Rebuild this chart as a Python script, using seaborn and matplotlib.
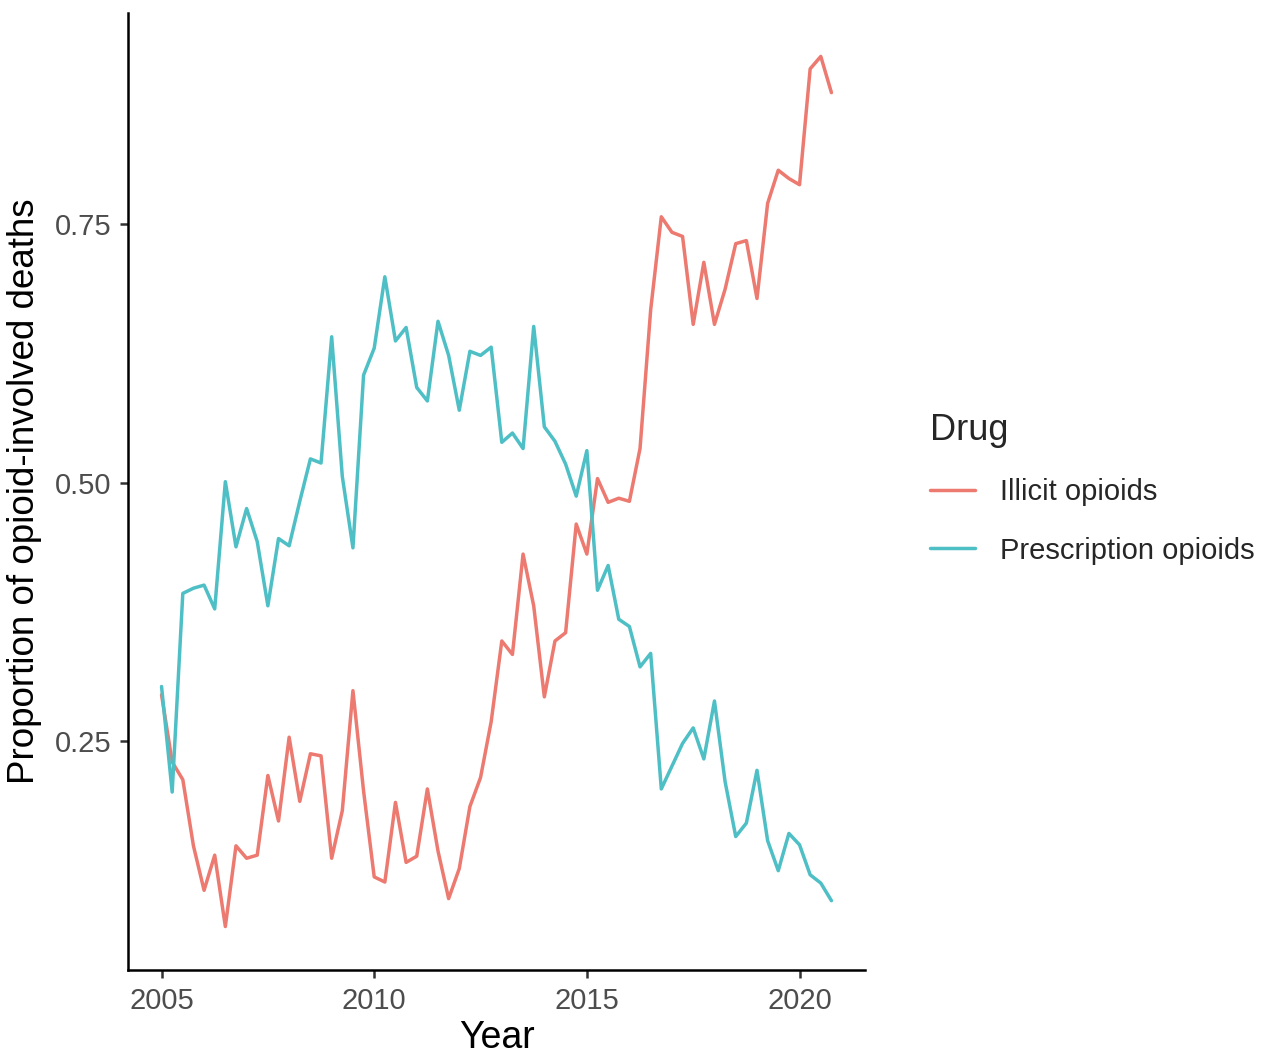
import numpy as np
import pandas as pd
import matplotlib
matplotlib.use("Agg")
import matplotlib.pyplot as plt
import seaborn as sns

# Quarterly proportions, 2005 Q1 - 2020 Q4
quarters = [2005 + q / 4 for q in range(64)]

illicit = [
    0.295, 0.230, 0.213, 0.149, 0.106, 0.140, 0.071, 0.149,
    0.137, 0.140, 0.217, 0.173, 0.254, 0.192, 0.238, 0.236,
    0.137, 0.183, 0.299, 0.202, 0.119, 0.114, 0.191, 0.133,
    0.139, 0.204, 0.144, 0.098, 0.127, 0.187, 0.215, 0.269,
    0.347, 0.334, 0.431, 0.381, 0.293, 0.347, 0.355, 0.460,
    0.431, 0.504, 0.481, 0.485, 0.482, 0.533, 0.667, 0.757,
    0.742, 0.738, 0.653, 0.713, 0.653, 0.687, 0.731, 0.734,
    0.678, 0.770, 0.802, 0.794, 0.788, 0.900, 0.912, 0.877,
]

prescription = [
    0.303, 0.201, 0.393, 0.398, 0.401, 0.378, 0.501, 0.438,
    0.475, 0.443, 0.381, 0.446, 0.439, 0.482, 0.523, 0.519,
    0.641, 0.506, 0.437, 0.604, 0.630, 0.699, 0.637, 0.650,
    0.592, 0.579, 0.656, 0.623, 0.570, 0.627, 0.623, 0.631,
    0.539, 0.548, 0.533, 0.651, 0.554, 0.540, 0.518, 0.487,
    0.531, 0.396, 0.420, 0.368, 0.361, 0.322, 0.335, 0.204,
    0.226, 0.248, 0.263, 0.233, 0.289, 0.211, 0.158, 0.171,
    0.222, 0.154, 0.125, 0.161, 0.150, 0.121, 0.113, 0.096,
]

drug_labels = ["Illicit opioids", "Prescription opioids"]
palette = {"Illicit opioids": "#EC7A70", "Prescription opioids": "#4FBFC6"}

df = pd.DataFrame({
    "Year": quarters * 2,
    "Proportion": illicit + prescription,
    "Drug": [drug_labels[0]] * len(quarters) + [drug_labels[1]] * len(quarters),
})

sns.set_style("ticks")
plt.rcParams["font.family"] = ["Liberation Sans", "DejaVu Sans"]

fig = plt.figure(figsize=(12.63, 10.54), dpi=100)
ax = fig.add_axes([0.1013, 0.0797, 0.5836, 0.908])

sns.lineplot(data=df, x="Year", y="Proportion", hue="Drug", palette=palette,
             linewidth=2.5, ax=ax)

# ggplot-style 5% expansion
ax.set_xlim(2004.21, 2021.54)
ax.set_ylim(0.029, 0.954)
ax.set_xticks([2005, 2010, 2015, 2020])
ax.set_yticks([0.25, 0.50, 0.75])
ax.set_yticklabels(["0.25", "0.50", "0.75"])

for side in ["top", "right"]:
    ax.spines[side].set_visible(False)
for side in ["left", "bottom"]:
    ax.spines[side].set_linewidth(1.8)
    ax.spines[side].set_color("black")
ax.tick_params(axis="both", length=6, width=1.8, color="#333333",
               labelsize=21, labelcolor="#4D4D4D", pad=6)

ax.set_xlabel("Year", fontsize=27, color="black", labelpad=4)
ax.set_ylabel("Proportion of opioid-involved deaths", fontsize=26.5,
              color="black", labelpad=9)

leg = ax.legend(title="Drug", loc="center left", bbox_to_anchor=(1.052, 0.503),
                frameon=False, fontsize=21, title_fontsize=26,
                handlelength=1.55, handletextpad=0.85, labelspacing=1.05,
                alignment="left")
leg._legend_box.sep = 22
for line in leg.get_lines():
    line.set_linewidth(2.5)

fig.savefig("out.png", dpi=100)
